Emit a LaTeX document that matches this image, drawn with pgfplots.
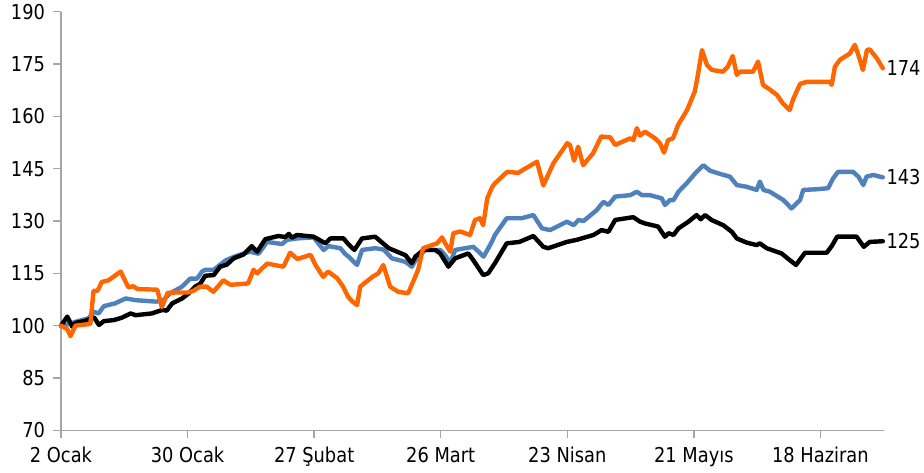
\documentclass[border=0pt]{standalone}
\usepackage{fontspec}
\setmainfont{DejaVu Sans}[FakeStretch=0.87]
\usepackage{pgfplots}
\pgfplotsset{compat=1.18}
\definecolor{orgline}{HTML}{FF6600}
\definecolor{blueline}{HTML}{4F81BD}
\definecolor{axgrey}{HTML}{A6A6A6}
\begin{document}
\begin{tikzpicture}
\path[use as bounding box] (-61pt,-41.7pt) rectangle (863pt,430.3pt);
\begin{axis}[
  scale only axis, width=822.7pt, height=418.6pt,
  xmin=0, xmax=182, ymin=70, ymax=190,
  axis x line*=bottom, axis y line*=left,
  axis line style={axgrey, line width=1.3pt, -},
  xtick={0,28,56,84,112,140,168},
  xticklabels={2 Ocak,30 Ocak,27 Şubat,26 Mart,23 Nisan,21 Mayıs,18 Haziran},
  ytick={70,85,100,115,130,145,160,175,190},
  tick align=outside, major tick length=7.5pt,
  tick style={axgrey, line width=1.3pt},
  /pgf/number format/assume math mode=true,
  ticklabel style={font=\fontsize{20.5}{24}\selectfont, text=black},
  xticklabel style={yshift=-6pt},
  yticklabel style={xshift=-5pt},
  clip=false,
  every axis plot/.append style={line width=4.4pt, line join=round, line cap=round, mark=none},
]
\addplot[blueline] coordinates {
(0,100) (2,100.5) (3.2,101.1) (6.1,102.1) (7.2,104) (8.3,103.5) (9.5,105.6) (12.0,106.4) (14.3,107.8) (16.5,107.3) (20.9,106.9) (22.4,107) (24.2,109.3) (26.8,111.2) (28.6,113.5) (30.1,113.5) (31.2,115.5) (31.9,116) (33.8,116) (36.4,118.7) (38.2,119.7) (40.4,120.7) (41.9,121.2) (43.7,120.6) (45.6,124) (48.9,123.4) (50.0,124.6) (52.2,125) (55.9,125.3) (58.1,121.7) (59.2,122.8) (61.8,122.2) (62.9,120.5) (63.6,119.8) (65.5,117.4) (66.6,121.7) (69.5,122.2) (71.4,121.8) (73.2,119.3) (76.2,118.3) (77.6,116.9) (78.7,119.3) (80.6,121.7) (83.9,121.7) (85.0,120.2) (86.1,117.9) (87.2,121.7) (91.2,122.6) (92.4,121.2) (93.5,119.8) (95.3,124) (96.0,126) (98.6,130.8) (101.9,130.8) (104.5,131.7) (106.4,127.9) (108.2,127.4) (111.9,129.8) (113.4,128.8) (114.5,130.3) (115.6,130) (118.5,133.1) (120.0,135.5) (121.1,134.6) (122.6,137) (125.9,137.4) (127.4,138.4) (128.5,137.4) (130.3,137.4) (132.9,136.5) (133.6,134.6) (134.7,136) (135.5,136) (136.6,138.4) (138.4,140.8) (140.6,144.1) (142.1,146) (143.6,144.4) (145.8,143.5) (148.0,142.7) (149.5,140.3) (151.7,139.8) (153.9,138.9) (154.6,141.3) (155.4,138.9) (156.8,138.4) (159.8,136) (161.6,133.6) (163.5,136) (164.2,138.9) (167.2,139.1) (169.7,139.4) (170.8,142.2) (171.9,144.1) (175.2,144.1) (176.4,142.7) (177.5,140.3) (178.2,142.7) (179.7,143.2) (181.8,142.5)
} node[pos=1, right, inner sep=1.5pt, text=black, font=\fontsize{20.5}{24}\selectfont] {143};
\addplot[black] coordinates {
(0,100) (1.4,102.6) (2.5,99.7) (3.2,100.8) (5.4,101.4) (7.3,102.4) (8.4,100.2) (9.5,101.3) (11.7,101.6) (13.5,102.3) (15.4,103.5) (16.5,103) (20.1,103.5) (22.4,104.5) (23.4,104.3) (24.6,106.4) (26.8,107.8) (28.3,109.3) (29.7,111.2) (30.8,112) (31.9,114.3) (33.8,114.5) (35.2,116.9) (36.7,117.5) (38.2,119.3) (40.4,120.4) (42.2,122.8) (43.4,121.2) (45.2,124.8) (48.1,125.7) (49.6,125.4) (50.4,126.3) (51.1,125.2) (52.2,126) (55.9,125.5) (58.5,123.6) (59.6,125) (62.5,125) (63.6,123.3) (64.9,121.7) (66.6,125) (69.5,125.5) (72.5,122.2) (76.2,120.2) (77.6,117.9) (78.4,119.8) (80.2,121.7) (82.8,121.7) (83.9,120.7) (85.7,116.9) (87.2,119.3) (90.1,120.7) (91.2,118.8) (93.4,114.5) (94.5,115) (96.0,117.9) (98.6,123.6) (101.4,124) (104.5,125.7) (106.7,122.6) (107.8,122.2) (111.9,124) (114.1,124.6) (117.8,126) (119.6,127.4) (121.1,126.9) (122.6,130.3) (125.1,130.8) (126.6,131.1) (128.1,129.8) (129.2,129.3) (132.1,128.4) (133.6,125.5) (134.4,126.5) (135.5,126) (136.6,127.9) (138.8,129.8) (140.6,131.7) (141.5,130.5) (142.5,131.7) (143.9,130.3) (146.5,128.8) (148.4,126.9) (149.5,125) (151.7,123.8) (153.9,123.1) (154.6,123.6) (156.1,122.2) (159.4,120.7) (161.2,118.8) (162.6,117.4) (164.6,120.9) (169.4,120.9) (170.5,122.8) (171.7,125.5) (176.0,125.5) (177.6,122.6) (178.9,124) (181.8,124.2)
} node[pos=1, right, inner sep=1.5pt, text=black, font=\fontsize{20.5}{24}\selectfont] {125};
\addplot[orgline] coordinates {
(0,100) (1.4,99) (2.1,97) (3.2,100) (6.5,100.5) (7.2,110) (8.1,110) (9.0,112.5) (10.5,113) (13.2,115.5) (14.9,111) (16.0,111.3) (16.9,110.5) (21.3,110.3) (22.3,105.3) (23.6,109.4) (25.4,109.5) (28.2,109.5) (29.3,110) (30.8,111.2) (32.2,111.2) (33.7,109.7) (35.9,113) (37.5,111.7) (41.4,112.1) (42.6,116) (43.4,115) (45.6,117.8) (49.2,116.9) (50.7,120.9) (52.3,119.1) (55.2,120.3) (56.3,117.4) (58.0,114) (59.1,115.5) (61.1,113.6) (62.4,111.2) (63.5,108.3) (64.4,107) (65.5,105.9) (66.2,111.2) (68.9,114) (70.2,115) (71.3,117.4) (72.8,111.2) (74.6,109.7) (76.8,109.3) (77.9,112.6) (79.0,116) (80.1,122.2) (82.1,123.1) (83.2,123.6) (84.3,125.3) (85.0,123.6) (86.1,121.2) (86.8,126.5) (88.3,127) (90.5,126) (91.6,130.3) (92.7,130.8) (93.4,128.8) (94.3,136.5) (95.4,139.8) (96.0,140.8) (98.7,144.1) (101.1,143.8) (105.3,147) (106.7,140.2) (108.9,146.5) (112.0,152.3) (112.6,151.8) (113.5,147.3) (114.4,151.3) (115.5,146) (117.7,149.4) (119.5,154.2) (121.5,154) (122.6,151.8) (125.9,153.7) (126.6,153.2) (127.4,156.6) (128.1,154.5) (129.2,155.6) (131.4,153.7) (132.5,152.3) (133.4,149.6) (134.3,153.2) (135.4,153.7) (136.5,157.5) (138.5,161.8) (140.2,167.1) (140.9,171.9) (141.8,179) (142.9,174.7) (144.0,173.3) (146.4,172.8) (147.5,174.2) (148.6,177.3) (149.5,171.9) (150.2,172.8) (153.1,172.8) (154.2,175.7) (155.3,169) (156.8,167.7) (158.4,166.1) (159.7,163.7) (161.2,161.8) (161.9,164.7) (163.5,169.3) (165.0,169.9) (170.1,169.9) (170.5,169) (171.2,174.2) (172.3,176.2) (174.5,178) (175.6,180.5) (176.3,178) (177.4,173.3) (178.3,179) (178.9,179.2) (180.5,176.6) (181.8,173.8)
} node[pos=1, right, inner sep=1.5pt, text=black, font=\fontsize{20.5}{24}\selectfont] {174};
\end{axis}
\end{tikzpicture}
\end{document}
